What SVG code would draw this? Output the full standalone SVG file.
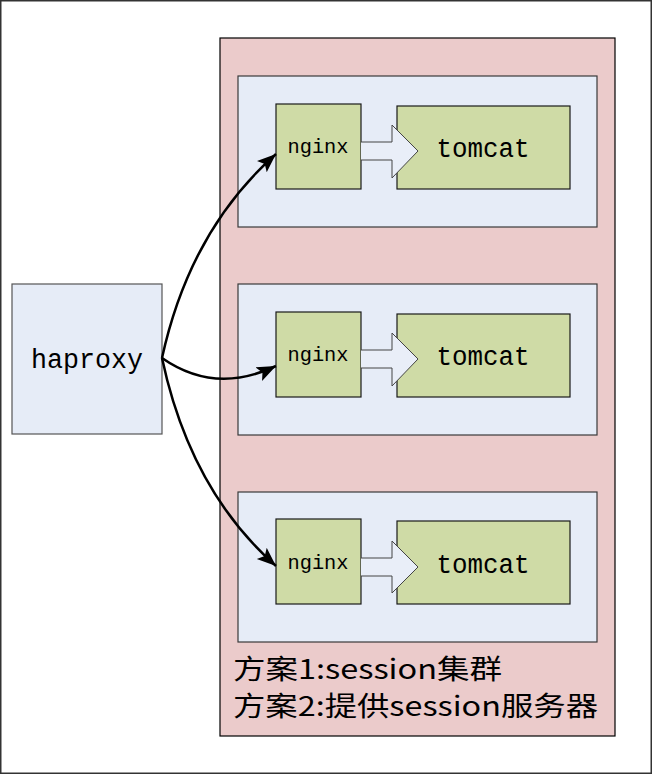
<svg xmlns="http://www.w3.org/2000/svg" width="654" height="775" viewBox="0 0 654 775">
<style>
.frame{fill:#ffffff;stroke:#333333;stroke-width:1.5}
.cluster{fill:#ebcbcb;stroke:#000000;stroke-width:1.2}
.panel{fill:#e6ecf7;stroke:#3a3a3a;stroke-width:1.2}
.hap{fill:#e6ecf7;stroke:#555555;stroke-width:1.2}
.green{fill:#cfdba6;stroke:#1a1a1a;stroke-width:1.2}
.fat{fill:#e9eef8;stroke:#444444;stroke-width:1}
.mono{font-family:"Liberation Mono","DejaVu Sans Mono",monospace;fill:#000000}
.cjk{font-family:"Noto Sans CJK SC","Liberation Sans",sans-serif;font-size:27px;fill:#000000}
.conn{fill:none;stroke:#000000;stroke-width:2.5}
</style>
<defs>
<marker id="ah" markerUnits="userSpaceOnUse" markerWidth="22" markerHeight="16" refX="19" refY="7.5" orient="auto">
<path d="M0,0 L19,7.5 L0,15 L4,7.5 Z" fill="#000000"/>
</marker>
</defs>
<rect class="frame" x="0.75" y="0.75" width="650.5" height="772.5"/>
<g id="cluster">
<rect class="cluster" x="220" y="38" width="395" height="698"/>
<text class="cjk" x="233" y="679" textLength="269" lengthAdjust="spacingAndGlyphs">方案1:session集群</text>
<text class="cjk" x="233" y="716" textLength="365" lengthAdjust="spacingAndGlyphs">方案2:提供session服务器</text>
</g>
<g id="panel1">
<rect class="panel" x="238" y="76" width="359" height="151"/>
<g id="tomcat1"><rect class="green" x="397" y="106" width="173" height="83"/><text class="mono" x="483" y="157" font-size="27" text-anchor="middle" textLength="93" lengthAdjust="spacingAndGlyphs">tomcat</text></g>
<g id="nginx1"><rect class="green" x="276" y="104" width="85" height="85"/><text class="mono" x="318" y="153" font-size="20" text-anchor="middle" textLength="61" lengthAdjust="spacingAndGlyphs">nginx</text></g>
<path class="fat" d="M361,142 L392,142 L392,125 L418,151 L392,178 L392,160 L361,160"/>
</g>
<g id="panel2">
<rect class="panel" x="238" y="284" width="359" height="151"/>
<g id="tomcat2"><rect class="green" x="397" y="314" width="173" height="83"/><text class="mono" x="483" y="365" font-size="27" text-anchor="middle" textLength="93" lengthAdjust="spacingAndGlyphs">tomcat</text></g>
<g id="nginx2"><rect class="green" x="276" y="312" width="85" height="85"/><text class="mono" x="318" y="361" font-size="20" text-anchor="middle" textLength="61" lengthAdjust="spacingAndGlyphs">nginx</text></g>
<path class="fat" d="M361,350 L392,350 L392,333 L418,359 L392,386 L392,368 L361,368"/>
</g>
<g id="panel3">
<rect class="panel" x="238" y="492" width="359" height="150"/>
<g id="tomcat3"><rect class="green" x="397" y="521" width="173" height="83"/><text class="mono" x="483" y="573" font-size="27" text-anchor="middle" textLength="93" lengthAdjust="spacingAndGlyphs">tomcat</text></g>
<g id="nginx3"><rect class="green" x="276" y="519" width="85" height="85"/><text class="mono" x="318" y="569" font-size="20" text-anchor="middle" textLength="61" lengthAdjust="spacingAndGlyphs">nginx</text></g>
<path class="fat" d="M361,558 L392,558 L392,541 L418,567 L392,593 L392,576 L361,576"/>
</g>
<g id="haproxy">
<rect class="hap" x="12" y="284" width="150" height="150"/>
<text class="mono" x="87" y="368" font-size="27" text-anchor="middle" textLength="112" lengthAdjust="spacingAndGlyphs">haproxy</text>
</g>
<g id="connectors">
<path class="conn" d="M162,358 Q190,230 276,154" marker-end="url(#ah)"/>
<path class="conn" d="M162,358 Q215,395 276,366" marker-end="url(#ah)"/>
<path class="conn" d="M162,358 Q190,490 276,566" marker-end="url(#ah)"/>
</g>
</svg>
